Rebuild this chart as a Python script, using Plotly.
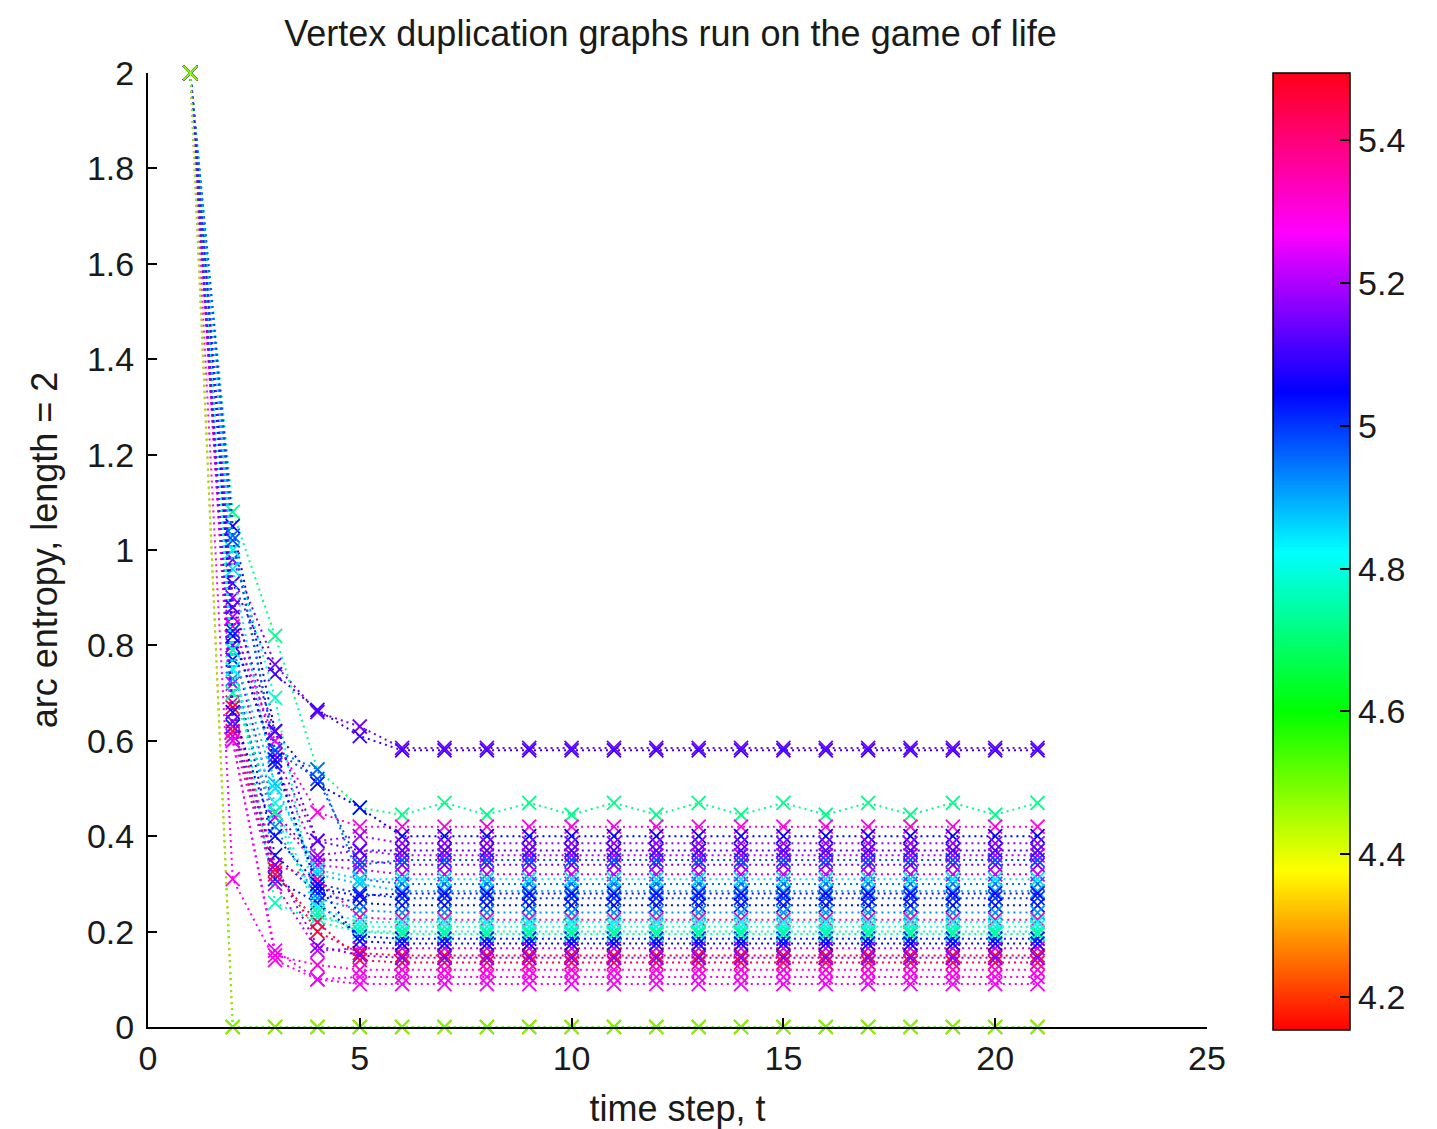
import plotly.graph_objects as go
from plotly.colors import sample_colorscale

# ---------------- data ----------------
time_steps = list(range(1, 22))

# colour value of each run (mapped through the colour bar)
run_colour_values = [5.15, 5.10, 4.72, 5.30, 5.05, 5.18, 5.20, 5.15, 5.22, 4.95,
                     4.88, 5.00, 5.03, 4.92, 5.35, 4.78, 4.76, 5.02, 5.22, 5.47,
                     5.43, 5.30, 5.28, 5.26, 4.98, 4.85, 5.06, 4.82, 4.74, 5.04,
                     5.16, 5.12, 4.25, 4.50]

run_03 = [2.00, 0.98, 0.76, 0.66, 0.63, 0.585, 0.585, 0.585, 0.585, 0.585, 0.585, 0.585, 0.585, 0.585, 0.585, 0.585, 0.585, 0.585, 0.585, 0.585, 0.585]
run_04 = [2.00, 0.93, 0.74, 0.665, 0.61, 0.58, 0.58, 0.58, 0.58, 0.58, 0.58, 0.58, 0.58, 0.58, 0.58, 0.58, 0.58, 0.58, 0.58, 0.58, 0.58]
run_05 = [2.00, 1.08, 0.82, 0.54, 0.46, 0.445, 0.47, 0.445, 0.47, 0.445, 0.47, 0.445, 0.47, 0.445, 0.47, 0.445, 0.47, 0.445, 0.47, 0.445, 0.47]
run_06 = [2.00, 0.84, 0.60, 0.45, 0.42, 0.42, 0.42, 0.42, 0.42, 0.42, 0.42, 0.42, 0.42, 0.42, 0.42, 0.42, 0.42, 0.42, 0.42, 0.42, 0.42]
run_07 = [2.00, 1.05, 0.62, 0.51, 0.46, 0.40, 0.40, 0.40, 0.40, 0.40, 0.40, 0.40, 0.40, 0.40, 0.40, 0.40, 0.40, 0.40, 0.40, 0.40, 0.40]
run_08 = [2.00, 0.90, 0.57, 0.39, 0.40, 0.385, 0.385, 0.385, 0.385, 0.385, 0.385, 0.385, 0.385, 0.385, 0.385, 0.385, 0.385, 0.385, 0.385, 0.385, 0.385]
run_09 = [2.00, 0.86, 0.55, 0.36, 0.37, 0.36, 0.36, 0.36, 0.36, 0.36, 0.36, 0.36, 0.36, 0.36, 0.36, 0.36, 0.36, 0.36, 0.36, 0.36, 0.36]
run_10 = [2.00, 0.80, 0.45, 0.35, 0.35, 0.34, 0.34, 0.34, 0.34, 0.34, 0.34, 0.34, 0.34, 0.34, 0.34, 0.34, 0.34, 0.34, 0.34, 0.34, 0.34]
run_11 = [2.00, 0.72, 0.44, 0.34, 0.33, 0.32, 0.32, 0.32, 0.32, 0.32, 0.32, 0.32, 0.32, 0.32, 0.32, 0.32, 0.32, 0.32, 0.32, 0.32, 0.32]
run_12 = [2.00, 1.03, 0.58, 0.54, 0.31, 0.30, 0.30, 0.30, 0.30, 0.30, 0.30, 0.30, 0.30, 0.30, 0.30, 0.30, 0.30, 0.30, 0.30, 0.30, 0.30]
run_13 = [2.00, 0.79, 0.51, 0.32, 0.30, 0.285, 0.285, 0.285, 0.285, 0.285, 0.285, 0.285, 0.285, 0.285, 0.285, 0.285, 0.285, 0.285, 0.285, 0.285, 0.285]
run_14 = [2.00, 0.83, 0.55, 0.30, 0.28, 0.27, 0.27, 0.27, 0.27, 0.27, 0.27, 0.27, 0.27, 0.27, 0.27, 0.27, 0.27, 0.27, 0.27, 0.27, 0.27]
run_15 = [2.00, 0.77, 0.36, 0.28, 0.26, 0.255, 0.255, 0.255, 0.255, 0.255, 0.255, 0.255, 0.255, 0.255, 0.255, 0.255, 0.255, 0.255, 0.255, 0.255, 0.255]
run_16 = [2.00, 0.73, 0.42, 0.27, 0.245, 0.24, 0.24, 0.24, 0.24, 0.24, 0.24, 0.24, 0.24, 0.24, 0.24, 0.24, 0.24, 0.24, 0.24, 0.24, 0.24]
run_17 = [2.00, 0.68, 0.34, 0.31, 0.23, 0.225, 0.225, 0.225, 0.225, 0.225, 0.225, 0.225, 0.225, 0.225, 0.225, 0.225, 0.225, 0.225, 0.225, 0.225, 0.225]
run_18 = [2.00, 1.00, 0.69, 0.23, 0.21, 0.21, 0.21, 0.21, 0.21, 0.21, 0.21, 0.21, 0.21, 0.21, 0.21, 0.21, 0.21, 0.21, 0.21, 0.21, 0.21]
run_19 = [2.00, 0.79, 0.26, 0.22, 0.20, 0.20, 0.20, 0.20, 0.20, 0.20, 0.20, 0.20, 0.20, 0.20, 0.20, 0.20, 0.20, 0.20, 0.20, 0.20, 0.20]
run_20 = [2.00, 0.63, 0.31, 0.26, 0.19, 0.185, 0.185, 0.185, 0.185, 0.185, 0.185, 0.185, 0.185, 0.185, 0.185, 0.185, 0.185, 0.185, 0.185, 0.185, 0.185]
run_21 = [2.00, 0.61, 0.30, 0.16, 0.165, 0.165, 0.165, 0.165, 0.165, 0.165, 0.165, 0.165, 0.165, 0.165, 0.165, 0.165, 0.165, 0.165, 0.165, 0.165, 0.165]
run_22 = [2.00, 0.67, 0.33, 0.20, 0.155, 0.15, 0.15, 0.15, 0.15, 0.15, 0.15, 0.15, 0.15, 0.15, 0.15, 0.15, 0.15, 0.15, 0.15, 0.15, 0.15]
run_23 = [2.00, 0.62, 0.32, 0.22, 0.14, 0.135, 0.135, 0.135, 0.135, 0.135, 0.135, 0.135, 0.135, 0.135, 0.135, 0.135, 0.135, 0.135, 0.135, 0.135, 0.135]
run_24 = [2.00, 0.60, 0.15, 0.13, 0.12, 0.12, 0.12, 0.12, 0.12, 0.12, 0.12, 0.12, 0.12, 0.12, 0.12, 0.12, 0.12, 0.12, 0.12, 0.12, 0.12]
run_25 = [2.00, 0.31, 0.14, 0.10, 0.105, 0.105, 0.105, 0.105, 0.105, 0.105, 0.105, 0.105, 0.105, 0.105, 0.105, 0.105, 0.105, 0.105, 0.105, 0.105, 0.105]
run_26 = [2.00, 0.60, 0.16, 0.10, 0.09, 0.09, 0.09, 0.09, 0.09, 0.09, 0.09, 0.09, 0.09, 0.09, 0.09, 0.09, 0.09, 0.09, 0.09, 0.09, 0.09]
run_27 = [2.00, 1.02, 0.58, 0.52, 0.34, 0.35, 0.35, 0.35, 0.35, 0.35, 0.35, 0.35, 0.35, 0.35, 0.35, 0.35, 0.35, 0.35, 0.35, 0.35, 0.35]
run_28 = [2.00, 0.96, 0.50, 0.33, 0.31, 0.31, 0.31, 0.31, 0.31, 0.31, 0.31, 0.31, 0.31, 0.31, 0.31, 0.31, 0.31, 0.31, 0.31, 0.31, 0.31]
run_29 = [2.00, 0.82, 0.56, 0.29, 0.275, 0.28, 0.28, 0.28, 0.28, 0.28, 0.28, 0.28, 0.28, 0.28, 0.28, 0.28, 0.28, 0.28, 0.28, 0.28, 0.28]
run_30 = [2.00, 0.75, 0.47, 0.25, 0.22, 0.22, 0.22, 0.22, 0.22, 0.22, 0.22, 0.22, 0.22, 0.22, 0.22, 0.22, 0.22, 0.22, 0.22, 0.22, 0.22]
run_31 = [2.00, 0.70, 0.45, 0.24, 0.20, 0.195, 0.195, 0.195, 0.195, 0.195, 0.195, 0.195, 0.195, 0.195, 0.195, 0.195, 0.195, 0.195, 0.195, 0.195, 0.195]
run_32 = [2.00, 0.66, 0.40, 0.30, 0.18, 0.175, 0.175, 0.175, 0.175, 0.175, 0.175, 0.175, 0.175, 0.175, 0.175, 0.175, 0.175, 0.175, 0.175, 0.175, 0.175]
run_33 = [2.00, 0.64, 0.34, 0.17, 0.15, 0.145, 0.145, 0.145, 0.145, 0.145, 0.145, 0.145, 0.145, 0.145, 0.145, 0.145, 0.145, 0.145, 0.145, 0.145, 0.145]
run_34 = [2.00, 0.88, 0.62, 0.39, 0.37, 0.37, 0.37, 0.37, 0.37, 0.37, 0.37, 0.37, 0.37, 0.37, 0.37, 0.37, 0.37, 0.37, 0.37, 0.37, 0.37]
run_01 = [2.00, 0.00, 0.00, 0.00, 0.00, 0.00, 0.00, 0.00, 0.00, 0.00, 0.00, 0.00, 0.00, 0.00, 0.00, 0.00, 0.00, 0.00, 0.00, 0.00, 0.00]
run_02 = [2.00, 0.00, 0.00, 0.00, 0.00, 0.00, 0.00, 0.00, 0.00, 0.00, 0.00, 0.00, 0.00, 0.00, 0.00, 0.00, 0.00, 0.00, 0.00, 0.00, 0.00]

runs = [run_03, run_04, run_05, run_06, run_07, run_08, run_09, run_10, run_11, run_12,
        run_13, run_14, run_15, run_16, run_17, run_18, run_19, run_20, run_21, run_22,
        run_23, run_24, run_25, run_26, run_27, run_28, run_29, run_30, run_31, run_32,
        run_33, run_34, run_01, run_02]

colour_min, colour_max = 4.154, 5.494
colourbar_ticks = [4.2, 4.4, 4.6, 4.8, 5.0, 5.2, 5.4]
colourbar_ticktext = ["4.2", "4.4", "4.6", "4.8", "5", "5.2", "5.4"]
x_ticks = [0, 5, 10, 15, 20, 25]
y_ticks = [0, 0.2, 0.4, 0.6, 0.8, 1.0, 1.2, 1.4, 1.6, 1.8, 2.0]
y_ticktext = ["0", "0.2", "0.4", "0.6", "0.8", "1", "1.2", "1.4", "1.6", "1.8", "2"]

# ---------------- figure ----------------
hsv = [[0.0, "rgb(255,0,0)"], [1/6, "rgb(255,255,0)"], [2/6, "rgb(0,255,0)"],
       [3/6, "rgb(0,255,255)"], [4/6, "rgb(0,0,255)"], [5/6, "rgb(255,0,255)"],
       [1.0, "rgb(255,0,24)"]]

FONT = "Liberation Sans, Arial, sans-serif"
TXT = "#1a1a1a"
fig = go.Figure()

for cval, ys in zip(run_colour_values, runs):
    frac = (cval - colour_min) / (colour_max - colour_min)
    col = sample_colorscale(hsv, [frac])[0]
    fig.add_trace(go.Scatter(
        x=time_steps, y=ys, mode="lines+markers", cliponaxis=False,
        line=dict(color=col, width=2, dash="2px,4px"),
        marker=dict(symbol="x-thin-open", size=14, color=col,
                    line=dict(color=col, width=1.8)),
        showlegend=False, hoverinfo="x+y",
    ))

# colour bar
fig.add_trace(go.Scatter(
    x=[None], y=[None], mode="markers", showlegend=False, hoverinfo="skip",
    marker=dict(color=[colour_min], cmin=colour_min, cmax=colour_max,
                colorscale=hsv, showscale=True,
                colorbar=dict(
                    x=(1273 - 148) / 1059, xanchor="left", xpad=0,
                    y=(1027 - 551.5) / 954, yanchor="middle", ypad=0,
                    len=957 / 954, lenmode="fraction",
                    thickness=77, thicknessmode="pixels",
                    outlinecolor="black", outlinewidth=1.5,
                    tickvals=colourbar_ticks, ticktext=colourbar_ticktext,
                    ticks="inside", ticklen=10, tickcolor="black", tickwidth=1.5,
                    tickfont=dict(family=FONT, size=34, color=TXT),
                )),
))

W, H = 1429, 1121  # page body adds an 8px offset
fig.update_layout(
    width=W, height=H,
    margin=dict(l=140, r=230, t=65, b=102, pad=0),
    paper_bgcolor="white", plot_bgcolor="white",
    title=dict(text="Vertex duplication graphs run on the game of life",
               x=((283 + 1058) / 2 - 8) / W, xanchor="center",
               y=1 - 25 / H, yanchor="middle", automargin=False,
               font=dict(family=FONT, size=36, color=TXT)),
    font=dict(family=FONT, size=34, color=TXT),
)
fig.update_xaxes(
    range=[0, 25], tickvals=x_ticks, ticks="inside", ticklen=9, tickwidth=1.5,
    tickcolor="black", showline=True, linecolor="black", linewidth=2,
    showgrid=False, zeroline=False, mirror=False, automargin=False,
    tickfont=dict(family=FONT, size=34, color=TXT),
    title=dict(text="time step, t", font=dict(family=FONT, size=36, color=TXT), standoff=20),
)
fig.update_yaxes(
    range=[0, 2], tickvals=y_ticks, ticktext=y_ticktext, ticks="inside", ticklen=9,
    tickwidth=1.5, tickcolor="black", showline=True, linecolor="black", linewidth=2,
    showgrid=False, zeroline=False, mirror=False, automargin=False,
    ticklabelstandoff=5,
    tickfont=dict(family=FONT, size=34, color=TXT),
    title=dict(text="arc entropy, length = 2", font=dict(family=FONT, size=36, color=TXT), standoff=18),
)

fig.write_html("out.html")
